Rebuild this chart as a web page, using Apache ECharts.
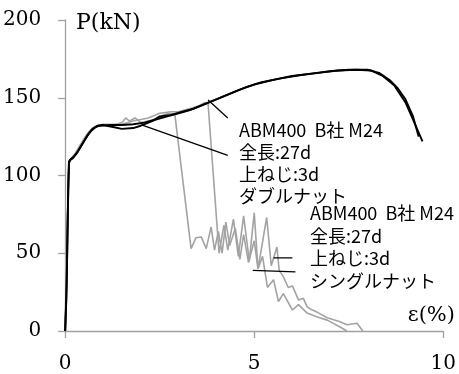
<!DOCTYPE html>
<html>
<head>
<meta charset="utf-8">
<script src="https://cdn.jsdelivr.net/npm/echarts@6/dist/echarts.min.js"></script>
<style>
  html, body { margin: 0; padding: 0; background: #fff; }
  #main { width: 459px; height: 374px; }
</style>
</head>
<body>
<div id="main"></div>
<script>
// strain (%) / load (kN) pairs
const doubleNutA = [[0,0],[0.03,20],[0.06,60],[0.08,90],[0.1,108],[0.13,110],[0.2,111],[0.3,114],[0.4,118],[0.5,122],[0.6,126],[0.7,129],[0.8,131],[0.9,132],[1.2,132.5],[1.5,132.5],[1.8,133],[2.1,134],[2.4,136],[2.7,138],[3.0,140],[3.3,142],[3.6,145],[3.9,148],[4.2,151],[4.6,155],[5.0,158.5],[5.5,161.5],[6.0,164],[6.5,165.5],[7.0,167],[7.5,168],[8.0,168],[8.3,166],[8.6,161],[8.8,156],[9.0,149],[9.2,138],[9.35,125]]
const doubleNutB = [[0,0],[0.04,30],[0.07,75],[0.09,100],[0.1,109],[0.14,110.5],[0.22,112],[0.32,115],[0.42,119],[0.52,123],[0.62,127],[0.72,130],[0.85,132],[1.0,132.5],[1.3,131],[1.5,130],[1.8,130.5],[2.0,132],[2.3,135],[2.5,138],[2.8,139],[3.1,141],[3.4,143],[3.7,146],[4.0,149],[4.4,153],[4.8,157],[5.2,160],[5.7,162.5],[6.2,164.5],[6.7,166],[7.2,167.5],[7.7,168],[8.1,167.5],[8.4,164],[8.7,158],[9.0,147],[9.2,136],[9.45,122]]
const singleNutA = [[0,0],[0.04,50],[0.08,95],[0.1,108],[0.15,110],[0.25,113],[0.35,117],[0.45,121],[0.55,125],[0.65,128],[0.75,130],[0.85,132],[1.0,132.5],[1.3,132.5],[1.5,134],[1.6,137],[1.7,135],[1.85,137],[2.0,134],[2.2,135],[2.5,137],[2.6,139],[2.75,140],[2.9,139.5],[3.33,53],[3.46,60],[3.6,60.5],[3.73,53],[3.86,67],[3.95,52],[4.05,64],[4.15,50],[4.25,70],[4.35,55],[4.5,66],[4.62,46],[4.72,62],[4.85,44],[5.0,58],[5.1,40],[5.22,48],[5.35,28],[5.51,33],[5.64,19],[5.77,24],[6.01,13.5],[6.17,17],[6.4,11.5],[6.67,9],[6.93,7],[7.27,2.6],[7.45,0]]
const singleNutB = [[0,0],[0.05,60],[0.09,100],[0.11,109],[0.16,111],[0.26,114],[0.36,118],[0.46,122],[0.56,126],[0.66,129],[0.8,131.5],[1.0,133],[1.3,133],[1.5,133],[1.8,135],[2.2,137],[2.5,140],[2.8,141],[3.0,141],[3.3,143],[3.55,145],[3.7,147],[3.78,146],[4.07,50],[4.2,68],[4.3,52],[4.45,72],[4.58,48],[4.72,74],[4.87,45],[5.0,76],[5.1,40],[5.33,73],[5.45,42],[5.6,54],[5.66,39],[5.77,35],[5.9,28],[6.01,29],[6.17,20],[6.3,21],[6.4,15.5],[6.5,14],[6.67,12],[6.93,8.5],[7.27,6],[7.45,4],[7.72,5],[7.87,0]]

// leader lines from the notes to the curves
const leaderLines = [
  [[3.78,148.6],[4.30,137]],
  [[2.02,132.5],[4.30,113]],
  [[5.51,47],[6.01,47]],
  [[4.96,39],[6.09,38]]
]

const noteDouble = ['ABM400  B社 M24', '全長:27d', '上ねじ:3d', 'ダブルナット']
const noteSingle = ['ABM400  B社 M24', '全長:27d', '上ねじ:3d', 'シングルナット']

const chart = echarts.init(document.getElementById('main'), null, { renderer: 'canvas' })

const serif = '"DejaVu Serif", serif'
const jp = '"Noto Sans CJK JP", sans-serif'

const curve = (data, color, width) => ({
  type: 'line',
  data,
  symbol: 'none',
  silent: true,
  lineStyle: { color, width }
})

const series = [
  curve(singleNutA, '#a3a3a3', 1.6),
  curve(singleNutB, '#a3a3a3', 1.6),
  curve(doubleNutA, '#000', 1.9),
  curve(doubleNutB, '#000', 1.9)
]
leaderLines.forEach((seg) => series.push(curve(seg, '#000', 1.3)))

const option = {
  animation: false,
  grid: { left: 63, right: 15, top: 20, bottom: 43 },
  xAxis: {
    type: 'value',
    min: 0,
    max: 10,
    interval: 5,
    axisLine: { lineStyle: { color: '#a0a0a0', width: 1.3 } },
    axisTick: { show: true, length: 7, lineStyle: { color: '#a0a0a0', width: 1.3 } },
    axisLabel: { color: '#000', fontFamily: serif, fontSize: 20, margin: 23 },
    splitLine: { show: false }
  },
  yAxis: {
    type: 'value',
    min: 0,
    max: 200,
    interval: 50,
    axisLine: { show: true, lineStyle: { color: '#a0a0a0', width: 1.3 } },
    axisTick: { show: true, length: 7, lineStyle: { color: '#a0a0a0', width: 1.3 } },
    axisLabel: { color: '#000', fontFamily: serif, fontSize: 20, margin: 24 },
    splitLine: { show: false }
  },
  graphic: [
    { type: 'text', left: 76, top: 12, style: { text: 'P(kN)', font: '22px ' + serif, fill: '#000' } },
    { type: 'text', right: 4, top: 305, style: { text: 'ε(%)', font: '21px ' + serif, fill: '#000' } },
    { type: 'text', left: 239, top: 119, style: { text: noteDouble.join('\n'), font: '18px ' + jp, lineHeight: 22, fill: '#000' } },
    { type: 'text', left: 310, top: 202, style: { text: noteSingle.join('\n'), font: '18px ' + jp, lineHeight: 22.5, fill: '#000' } }
  ],
  series
}

chart.setOption(option)
</script>
</body>
</html>
